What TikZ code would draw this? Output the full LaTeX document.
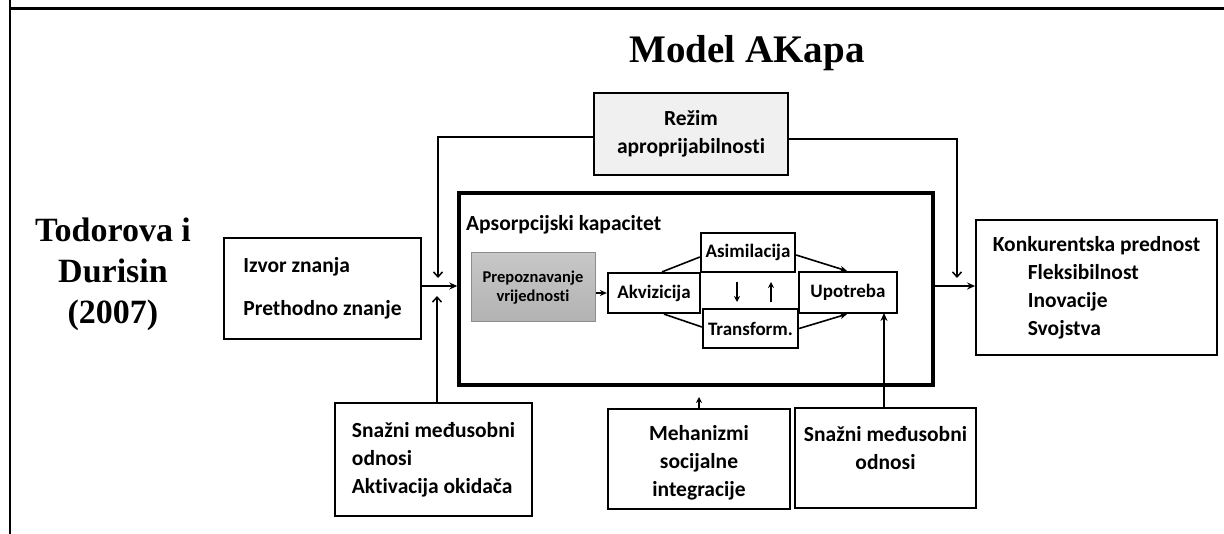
\documentclass[tikz,border=0pt]{standalone}
\usepackage{fontspec}
\setmainfont{Liberation Serif}
\newfontfamily\calib[Ligatures=NoCommon]{Carlito}
\usetikzlibrary{arrows.meta,calc}
\begin{document}
\begin{tikzpicture}[x=1pt,y=-1pt,
  box/.style={draw=black, line width=1.8pt, inner sep=0pt, font=\calib\bfseries\fontsize{21.5}{28}\selectfont},
  txt/.style={inner sep=0pt, font=\calib\bfseries\fontsize{21.5}{28}\selectfont},
  inbox/.style={draw=black, line width=2.2pt, inner sep=0pt, font=\calib\bfseries\fontsize{19}{24}\selectfont},
  harr/.style={line width=1.6pt, -{Stealth[length=8pt,width=7pt]}},
  varr/.style={line width=1.6pt, -{Straight Barb[length=5pt,width=9pt,line width=1.5pt]}},
  conn/.style={line width=1.6pt},
  ttl/.style={font=\bfseries\fontsize{39}{44}\selectfont, align=center, inner sep=0pt}
]
\useasboundingbox (0,0) rectangle (1224,534);
\fill[white] (0,0) rectangle (1224,534);
% frame
\coordinate (fa) at (10,0);
\coordinate (fb) at (10,534);
\coordinate (fc) at (10,8.7);
\coordinate (fd) at (1224,8.7);
\draw[line width=1.8pt] (fa) -- (fb);
\draw[line width=2.4pt] (fc) -- (fd);
% titles
\node[ttl] (title) at (747,53) {Model AKapa};
\node[ttl, font=\bfseries\fontsize{34}{41}\selectfont] (auth) at (113,274) {Todorova i\\Durisin\\(2007)};
% boxes
\node[box, fill=black!6, minimum width=194pt, minimum height=82pt, align=center] (regime) at (691,134) {Režim\\aproprijabilnosti};
\node[draw=black, line width=3.4pt, minimum width=474pt, minimum height=192pt, inner sep=0pt] (big) at (696,289) {};
\node[anchor=west, txt] (apslbl) at (466,225) {Apsorpcijski kapacitet};
\node[draw=black!45, line width=1pt, top color=black!22, bottom color=black!30, minimum width=124pt, minimum height=69pt, inner sep=0pt, align=center, font=\calib\bfseries\fontsize{16.5}{18.5}\selectfont] (prep) at (533,287.5) {Prepoznavanje\\vrijednosti};
\node[inbox, minimum width=92pt, minimum height=40pt] (akv) at (654,293) {Akvizicija};
\node[inbox, minimum width=94pt, minimum height=39pt] (asim) at (748,252.5) {Asimilacija};
\node[inbox, minimum width=95pt, minimum height=39pt] (trans) at (750.5,328.5) {Transform.};
\node[inbox, minimum width=98pt, minimum height=41pt] (upo) at (848,292.5) {Upotreba};
\node[box, minimum width=197pt, minimum height=101pt, align=left] (izvor) at (322.5,288.5) {Izvor znanja\\[15pt]Prethodno znanje};
\node[box, minimum width=241pt, minimum height=135pt, align=left] (konk) at (1096.5,287.5) {Konkurentska prednost\\\hspace*{35pt}Fleksibilnost\\\hspace*{35pt}Inovacije\\\hspace*{35pt}Svojstva};
\node[box, minimum width=197pt, minimum height=113pt, align=left] (snaL) at (433.5,459.5) {Snažni međusobni\\odnosi\\Aktivacija okidača};
\node[box, minimum width=182pt, minimum height=100pt] (meh) at (699,459) {};
\node[txt, align=center] (mehT) at (699,463) {Mehanizmi\\socijalne\\integracije};
\node[box, minimum width=181pt, minimum height=100pt] (snaR) at (885.5,458) {};
\node[txt, align=center] (snaRT) at (885.5,448) {Snažni međusobni\\odnosi};
% coordinates for free ends
\coordinate (ra) at (438,278);
\coordinate (rb) at (957,278);
\coordinate (sa) at (437,296);
\coordinate (ma) at (699,397);
\coordinate (ua) at (884,313);
\coordinate (d1) at (737,282);
\coordinate (d2) at (737,302);
\coordinate (e1) at (771,302);
\coordinate (e2) at (771,282);
% connectors
\draw[varr] ([yshift=-3pt]regime.west) -| (ra);
\draw[varr] ([yshift=-5pt]regime.east) -| (rb);
\draw[harr] ([yshift=2.5pt]izvor.east) -- ([yshift=2.5pt]izvor.east -| big.west);
\draw[harr] ([yshift=3pt]big.east) -- ([yshift=3pt]big.east -| konk.west);
\draw[varr] (snaL.north -| sa) -- (sa);
\draw[harr, -{Stealth[length=6pt,width=6pt]}] (meh.north) -- (ma);
\draw[harr] (snaR.north -| ua) -- (ua);
\draw[harr, -{Stealth[length=7pt,width=6pt]}] (prep.east |- akv.west) -- (akv.west);
\draw[conn] ([xshift=8pt]akv.north) -- ([yshift=-4.5pt]asim.west);
\draw[conn] ([xshift=10pt]akv.south) -- ([yshift=1.5pt]trans.west);
\draw[harr, -{Stealth[length=7pt,width=6pt]}] ([yshift=-2.5pt]asim.east) -- ([xshift=-1pt]upo.north);
\draw[harr, -{Stealth[length=7pt,width=6pt]}] (trans.east) -- ([xshift=-1pt]upo.south);
\draw[harr, -{Stealth[length=6pt,width=6pt]}] (d1) -- (d2);
\draw[harr, -{Stealth[length=6pt,width=6pt]}] (e1) -- (e2);
\end{tikzpicture}
\end{document}
